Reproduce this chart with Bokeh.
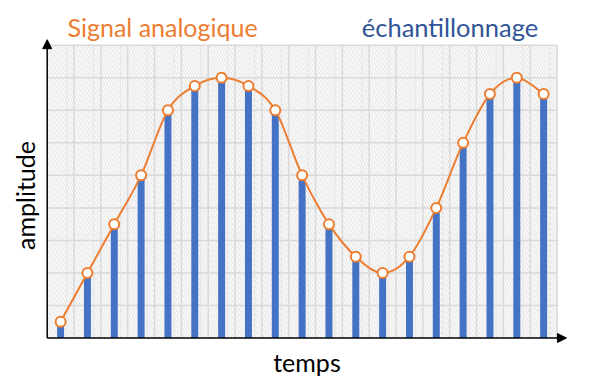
import numpy as np
from bokeh.plotting import figure
from bokeh.models import Range1d, Label, Arrow, NormalHead
from bokeh.embed import file_html
from bokeh.resources import INLINE

# ---- data ----
samples = list(range(1, 20))
amplitude = [0.5, 2.0, 3.5, 5.0, 7.0, 7.75, 8.0, 7.75, 7.0, 5.0,
             3.5, 2.5, 2.0, 2.5, 4.0, 6.0, 7.5, 8.0, 7.5]
x_max = 19
y_max = 9
title_left = "Signal analogique"
title_right = "échantillonnage"
x_label = "temps"
y_label = "amplitude"

ORANGE = "#ED7D31"
BLUE = "#4472C4"
DARKBLUE = "#2F5597"
FONT = "Lato"

xs = [s - 0.5 for s in samples]

# frame covers the whole canvas; ranges chosen so the plot area sits where the reference has it
p = figure(width=597, height=382,
           x_range=Range1d(-1.740, 20.507), y_range=Range1d(-1.368, 10.375),
           x_axis_type=None, y_axis_type=None,
           output_backend="svg", toolbar_location=None,
           min_border=0, min_border_left=0, min_border_right=0,
           min_border_top=0, min_border_bottom=0)
p.outline_line_color = None
p.background_fill_color = "white"
p.border_fill_color = "white"

# hatched plot area
p.quad(left=[0], right=[x_max], bottom=[0], top=[y_max],
       fill_color="white", line_color=None,
       hatch_pattern="left_diagonal_line", hatch_color="#dedede",
       hatch_scale=5.5, hatch_weight=1)

# minor vertical lines
minor = [i + 0.73 for i in range(x_max)]
p.segment(x0=minor, y0=[0] * len(minor), x1=minor, y1=[y_max] * len(minor),
          line_color="#e6e6e6", line_width=1)
# major grid
vx = list(range(1, x_max + 1))
p.segment(x0=vx, y0=[0] * len(vx), x1=vx, y1=[y_max] * len(vx),
          line_color="#d9d9d9", line_width=1.5)
hy = list(range(1, y_max + 1))
p.segment(x0=[0] * len(hy), y0=hy, x1=[x_max] * len(hy), y1=hy,
          line_color="#d9d9d9", line_width=1.5)

# bars (échantillonnage)
p.vbar(x=xs, top=amplitude, bottom=0, width=0.26,
       fill_color=BLUE, line_color=None)

# smooth curve (analog signal) through the samples, drawn as bezier segments
P = np.column_stack([xs, amplitude])
Pext = np.vstack([P[0], P, P[-1]])
x0, y0, x1, y1, cx0, cy0, cx1, cy1 = ([] for _ in range(8))
for i in range(len(P) - 1):
    pm, p0, p1, p2 = Pext[i], Pext[i + 1], Pext[i + 2], Pext[i + 3]
    c0 = p0 + (p1 - pm) / 6.0
    c1 = p1 - (p2 - p0) / 6.0
    x0.append(p0[0]); y0.append(p0[1]); x1.append(p1[0]); y1.append(p1[1])
    cx0.append(c0[0]); cy0.append(c0[1]); cx1.append(c1[0]); cy1.append(c1[1])
p.bezier(x0=x0, y0=y0, x1=x1, y1=y1, cx0=cx0, cy0=cy0, cx1=cx1, cy1=cy1,
         line_color=ORANGE, line_width=2)
p.scatter(xs, amplitude, size=10, fill_color="white",
          line_color=ORANGE, line_width=2)

# axes with arrows
p.add_layout(Arrow(end=NormalHead(size=9, fill_color="black", line_color="black"),
                   x_start=0, y_start=0, x_end=0, y_end=9.17,
                   line_color="black", line_width=1.5))
p.add_layout(Arrow(end=NormalHead(size=9, fill_color="black", line_color="black"),
                   x_start=0, y_start=0, x_end=19.35, y_end=0,
                   line_color="black", line_width=1.5))

# texts
p.add_layout(Label(x=4.3, y=9.57, text=title_left, text_align="center",
                   text_baseline="alphabetic", text_font=FONT,
                   text_font_size="25px", text_color=ORANGE))
p.add_layout(Label(x=15.01, y=9.57, text=title_right, text_align="center",
                   text_baseline="alphabetic", text_font=FONT,
                   text_font_size="25.5px", text_color=DARKBLUE))
p.add_layout(Label(x=9.68, y=-0.73, text=x_label, text_align="center",
                   text_baseline="alphabetic", text_font=FONT,
                   text_font_size="25px", text_color="black"))
p.add_layout(Label(x=-0.81, y=4.38, text=y_label, text_align="center",
                   text_baseline="alphabetic", text_font=FONT,
                   text_font_size="25px", text_color="black", angle=np.pi / 2))

open("out.html", "w").write(file_html(p, INLINE))
